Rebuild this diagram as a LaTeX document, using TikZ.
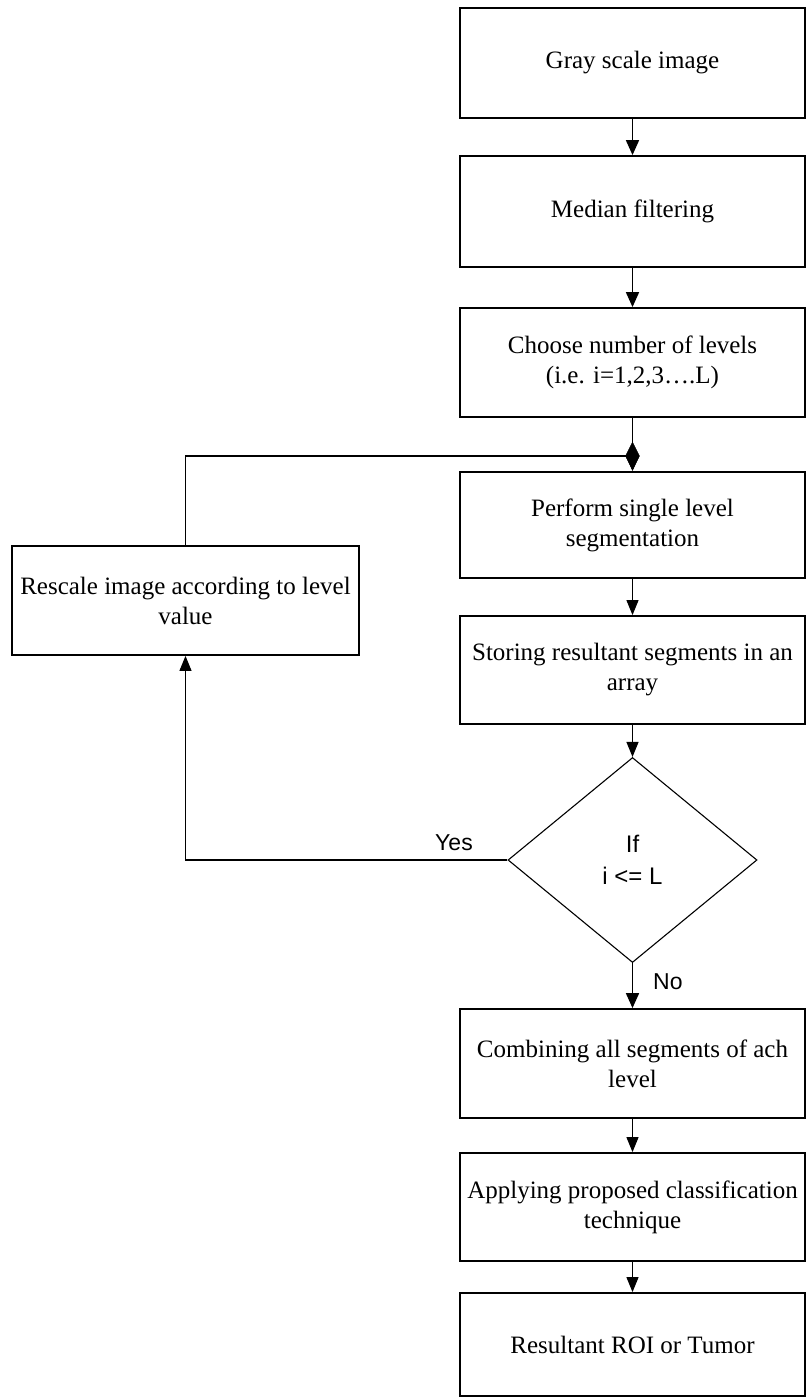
\documentclass[tikz,border=0pt]{standalone}
\usepackage{fontspec}
\setmainfont{Liberation Serif}
\newfontfamily\arialf{Liberation Sans}
\usetikzlibrary{shapes.geometric,arrows.meta}
\begin{document}
\begin{tikzpicture}[x=1pt,y=-1pt,
  box/.style={draw, line width=1.8pt, minimum width=345pt, inner sep=0pt, align=center,
    font=\fontsize{25}{30}\selectfont},
  dec/.style={draw, diamond, line width=1.1pt, minimum width=249pt, minimum height=205pt,
    inner sep=0pt, align=center, font=\arialf\fontsize{24}{32}\selectfont},
  lab/.style={font=\arialf\fontsize{23}{28}\selectfont, inner sep=0pt},
  arrthick/.style={-{Triangle[length=15pt,width=13pt]}, line width=1.7pt},
  arrthin/.style={-{Triangle[length=15pt,width=12pt]}, line width=1.1pt},
  junc/.style={draw, fill=black, diamond, minimum width=14pt, minimum height=28pt, inner sep=0pt}]
\useasboundingbox (0,0) rectangle (807,1398);
\fill[white] (0,0) rectangle (807,1398);

\node[box, minimum height=110pt] (b1) at (632.5,63) {Gray scale image};
\node[box, minimum height=111pt] (b2) at (632.5,211.5) {Median filtering};
\node[box, minimum height=109pt] (b3) at (632.5,362.5) {Choose number of levels\\(i.e. i=1,2,3….L)};
\node[box, minimum height=106pt] (b4) at (632.5,525) {Perform single level\\segmentation};
\node[box, minimum height=108pt] (b5) at (632.5,670) {Storing resultant segments in an\\array};
\node[dec] (d) at (632.5,860) {If\\i <= L};
\node[box, minimum height=109pt] (b6) at (632.5,1063.5) {Combining all segments of ach\\level};
\node[box, minimum height=108pt] (b7) at (632.5,1207) {Applying proposed classification\\technique};
\node[box, minimum height=103pt] (b8) at (632.5,1344.5) {Resultant ROI or Tumor};
\node[box, minimum width=347pt, minimum height=109pt] (r) at (185.5,600.5) {Rescale image according to level\\value};

\node[junc] (j) at (632.5,456) {};

\draw[arrthick] (b1) -- (b2);
\draw[arrthick] (b2) -- (b3);
\draw[arrthick] (b3) -- (b4);
\draw[arrthin] (b4) -- (b5);
\draw[arrthin] (b5) -- (d);
\draw[arrthick] (d) -- (b6);
\draw[arrthin] (b6) -- (b7);
\draw[arrthin] (b7) -- (b8);

\draw[arrthin] (d.west) -| (r.south);
\draw[line width=1.1pt] (r.north) |- (j.center);

\node[lab, anchor=base] (yes) at (454,850) {Yes};
\node[lab, anchor=base west] (no) at (653,989) {No};
\end{tikzpicture}
\end{document}
